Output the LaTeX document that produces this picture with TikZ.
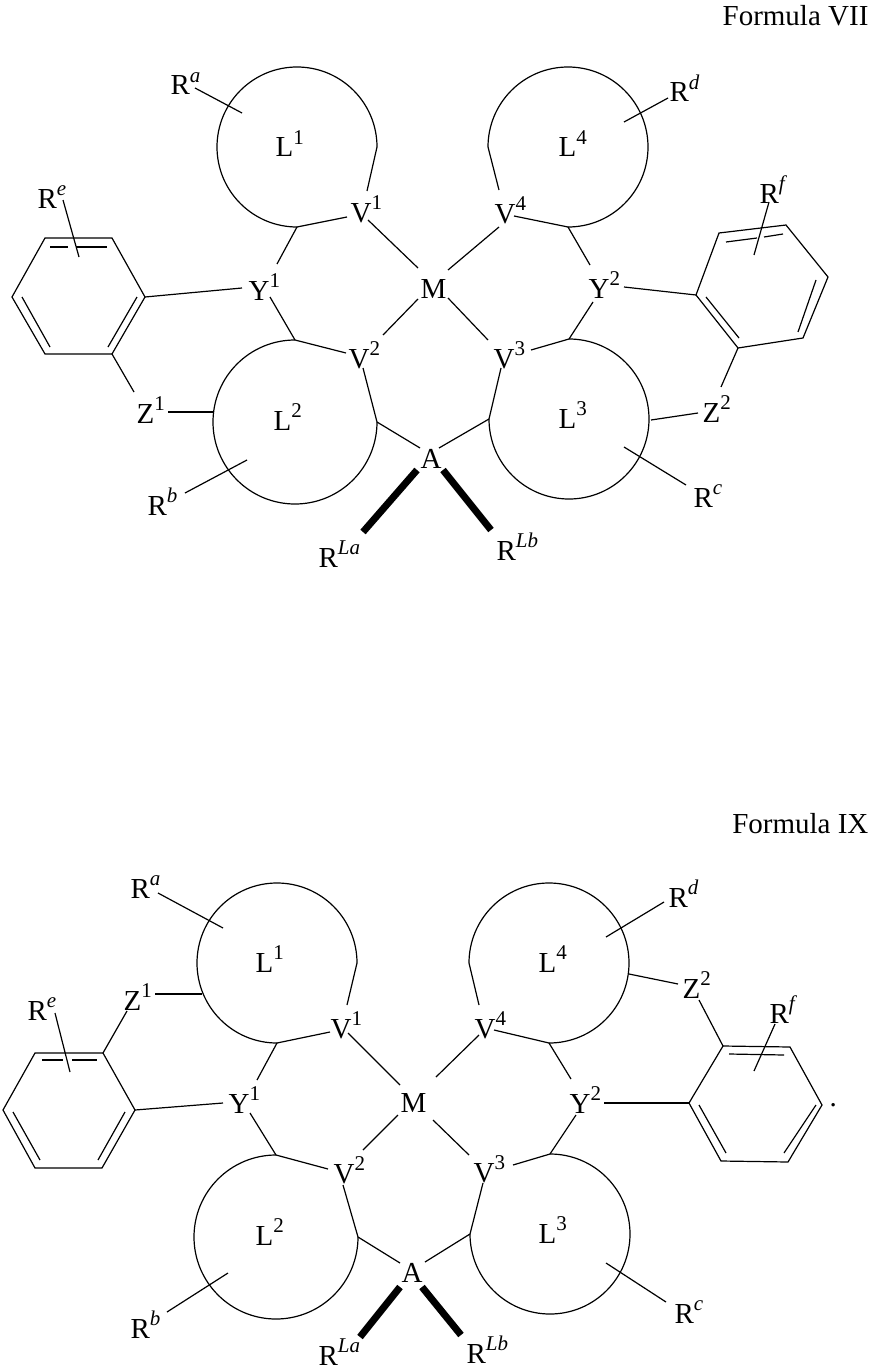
\documentclass[tikz,border=0pt]{standalone}
\usepackage{fontspec}
\setmainfont{Liberation Serif}
\newcommand\supr[1]{\raisebox{0.42em}{\fontsize{21}{21}\selectfont #1}}
\newcommand\supi[1]{\supr{\itshape #1}}
\begin{document}
\begin{tikzpicture}[x=1pt,y=1pt,line width=1.2pt,
  lab/.style={anchor=base west,inner sep=0pt,font=\fontsize{29}{29}\selectfont},
  wedge/.style={line width=7pt}]
\useasboundingbox (0,0) rectangle (872,-1370);
% ================= Formula VII =================
\node[lab,anchor=base east] (t7) at (869,-26) {Formula VII};
\node[lab] (ra) at (170,-95) {R\supi{a}};
\node[lab] (l1) at (275,-157) {L\supr{1}};
\node[lab] (re) at (37,-208) {R\supi{e}};
\node[lab] (v1) at (350,-222) {V\supr{1}};
\node[lab] (y1) at (248,-300) {Y\supr{1}};
\node[lab] (m) at (420,-298) {M};
\node[lab] (v2) at (348,-368) {V\supr{2}};
\node[lab] (z1) at (136,-423) {Z\supr{1}};
\node[lab] (l2) at (273,-430) {L\supr{2}};
\node[lab] (rb) at (147,-515) {R\supi{b}};
\node[lab] (a) at (420,-468) {A};
\node[lab] (rla) at (318,-567) {R\supi{La}};
\node[lab] (l4) at (558,-157) {L\supr{4}};
\node[lab] (rd) at (669,-102) {R\supi{d}};
\node[lab] (rf) at (759,-203) {R\supi{f}};
\node[lab] (v4) at (494,-223) {V\supr{4}};
\node[lab] (y2) at (588,-298) {Y\supr{2}};
\node[lab] (v3) at (493,-368) {V\supr{3}};
\node[lab] (l3) at (558,-428) {L\supr{3}};
\node[lab] (z2) at (702,-422) {Z\supr{2}};
\node[lab] (rc) at (693,-507) {R\supi{c}};
\node[lab] (rlb) at (496,-560) {R\supi{Lb}};
% rings
\draw (297,-147) ++(0:80) arc[start angle=0,end angle=270,radius=80];
\draw (295,-422) ++(90:82) arc[start angle=90,end angle=360,radius=82];
\draw (569,-419) ++(90:80) arc[start angle=90,end angle=-180,radius=80];
\draw (568,-147) ++(-90:80) arc[start angle=-90,end angle=180,radius=80];
\coordinate (p1a) at (377,-147); \coordinate (p1b) at (297,-227);
\coordinate (p2a) at (295,-340); \coordinate (p2b) at (377,-422);
\coordinate (p3a) at (569,-339); \coordinate (p3b) at (489,-419);
\coordinate (p4a) at (568,-227); \coordinate (p4b) at (488,-147);
% ring closures
\draw (p1a) -- (367,-191); \draw (p1b) -- (347,-217);
\draw (p2a) -- (346,-353); \draw (363,-368) -- (p2b);
\draw (p3a) -- (531,-350); \draw (501,-368) -- (p3b);
\draw (p4b) -- (499,-190); \draw (p4a) -- (514,-216);
% metal bonds
\draw (368,-220) -- (418,-268);
\draw (383,-335) -- (418,-299);
\draw (499,-227) -- (448,-270);
\draw (448,-298) -- (488,-340);
% Y bonds
\draw (p1b) -- (277,-264); \draw (270,-297) -- (p2a);
\draw (p4a) -- (590,-265); \draw (593,-302) -- (p3a);
\draw (242,-288) -- (145,-297);
\draw (624,-287) -- (696,-295);
% A bonds
\draw (p2b) -- (420,-448); \draw (p3b) -- (439,-448);
\draw[wedge] (417,-470) -- (363,-532);
\draw[wedge] (443,-470) -- (491,-530);
% substituents
\draw (195,-88) -- (242,-113);
\draw (668,-98) -- (624,-122);
\draw (185,-493) -- (247,-460);
\draw (686,-485) -- (624,-447);
\draw (168,-412) -- (213,-412);
\draw (651,-420) -- (698,-413);
\draw (112,-354) -- (134,-392);
\draw (721,-387) -- (738,-348);
\draw (63,-200) -- (79,-257);
\draw (769,-202) -- (754,-255);
% left benzene
\draw (12,-297) -- (45,-238) -- (112,-238) -- (145,-297) -- (112,-354) -- (45,-354) -- cycle;
\draw (50,-247) -- (68,-247); \draw (76,-247) -- (107,-247);
\draw (22,-297) -- (50,-347);
\draw (137,-297) -- (108,-347);
% right benzene
\draw (696,-295) -- (719,-233) -- (786,-225) -- (828,-277) -- (803,-338) -- (738,-348) -- cycle;
\draw (726,-242) -- (757,-238); \draw (764,-237) -- (783,-234);
\draw (816,-280) -- (798,-332);
\draw (706,-297) -- (739,-338);
% ================= Formula IX =================
\node[lab,anchor=base east] (t9) at (869,-833) {Formula IX};
\node[lab] (ra9) at (130,-898) {R\supi{a}};
\node[lab] (l19) at (255,-972) {L\supr{1}};
\node[lab] (z19) at (123,-1010) {Z\supr{1}};
\node[lab] (re9) at (27,-1020) {R\supi{e}};
\node[lab] (v19) at (330,-1038) {V\supr{1}};
\node[lab] (y19) at (228,-1113) {Y\supr{1}};
\node[lab] (m9) at (400,-1112) {M};
\node[lab] (v29) at (333,-1183) {V\supr{2}};
\node[lab] (l29) at (255,-1245) {L\supr{2}};
\node[lab] (rb9) at (130,-1338) {R\supi{b}};
\node[lab] (a9) at (401,-1282) {A};
\node[lab] (rla9) at (318,-1365) {R\supi{La}};
\node[lab] (l49) at (538,-972) {L\supr{4}};
\node[lab] (rd9) at (668,-907) {R\supi{d}};
\node[lab] (z29) at (682,-998) {Z\supr{2}};
\node[lab] (rf9) at (769,-1023) {R\supi{f}};
\node[lab] (v49) at (474,-1038) {V\supr{4}};
\node[lab] (y29) at (569,-1113) {Y\supr{2}};
\node[lab] (v39) at (473,-1182) {V\supr{3}};
\node[lab] (l39) at (538,-1243) {L\supr{3}};
\node[lab] (rc9) at (674,-1323) {R\supi{c}};
\node[lab] (rlb9) at (466,-1363) {R\supi{Lb}};
\node[lab] (dot9) at (829,-1106) {.};
% rings
\draw (277,-963) ++(0:80) arc[start angle=0,end angle=270,radius=80];
\draw (276,-1237) ++(90:82) arc[start angle=90,end angle=360,radius=82];
\draw (550,-1234) ++(90:80) arc[start angle=90,end angle=-180,radius=80];
\draw (549,-963) ++(-90:80) arc[start angle=-90,end angle=180,radius=80];
\coordinate (q1a) at (357,-963); \coordinate (q1b) at (277,-1043);
\coordinate (q2a) at (276,-1155); \coordinate (q2b) at (358,-1237);
\coordinate (q3a) at (550,-1154); \coordinate (q3b) at (470,-1234);
\coordinate (q4a) at (549,-1043); \coordinate (q4b) at (469,-963);
\draw (q1a) -- (347,-1005); \draw (q1b) -- (330,-1032);
\draw (q2a) -- (328,-1169); \draw (343,-1185) -- (q2b);
\draw (q3a) -- (513,-1165); \draw (483,-1183) -- (q3b);
\draw (q4b) -- (479,-1005); \draw (q4a) -- (494,-1030);
% metal bonds
\draw (348,-1033) -- (400,-1085);
\draw (363,-1150) -- (398,-1115);
\draw (479,-1035) -- (436,-1077);
\draw (469,-1155) -- (433,-1120);
% Y bonds
\draw (q1b) -- (257,-1080); \draw (250,-1113) -- (q2a);
\draw (q4a) -- (571,-1079); \draw (576,-1115) -- (q3a);
\draw (223,-1103) -- (135,-1110);
\draw (604,-1103) -- (689,-1103);
% A bonds
\draw (q2b) -- (400,-1263); \draw (q3b) -- (425,-1262);
\draw[wedge] (400,-1287) -- (360,-1337);
\draw[wedge] (422,-1287) -- (461,-1335);
% substituents
\draw (158,-893) -- (223,-928);
\draw (664,-902) -- (606,-937);
\draw (167,-1312) -- (228,-1273);
\draw (666,-1302) -- (606,-1263);
\draw (155,-994) -- (202,-994);
\draw (629,-974) -- (678,-984);
\draw (127,-1011) -- (103,-1053);
\draw (699,-1000) -- (723,-1046);
\draw (55,-1013) -- (70,-1072);
\draw (775,-1024) -- (754,-1071);
% left benzene
\draw (3,-1110) -- (35,-1053) -- (103,-1053) -- (135,-1110) -- (102,-1168) -- (35,-1168) -- cycle;
\draw (42,-1060) -- (63,-1060); \draw (72,-1060) -- (97,-1060);
\draw (125,-1112) -- (98,-1160);
\draw (13,-1112) -- (40,-1160);
% right benzene
\draw (689,-1103) -- (723,-1046) -- (790,-1047) -- (822,-1105) -- (788,-1162) -- (721,-1161) -- cycle;
\draw (729,-1054) -- (784,-1055);
\draw (699,-1105) -- (726,-1153);
\draw (816,-1105) -- (784,-1153);
\end{tikzpicture}
\end{document}
